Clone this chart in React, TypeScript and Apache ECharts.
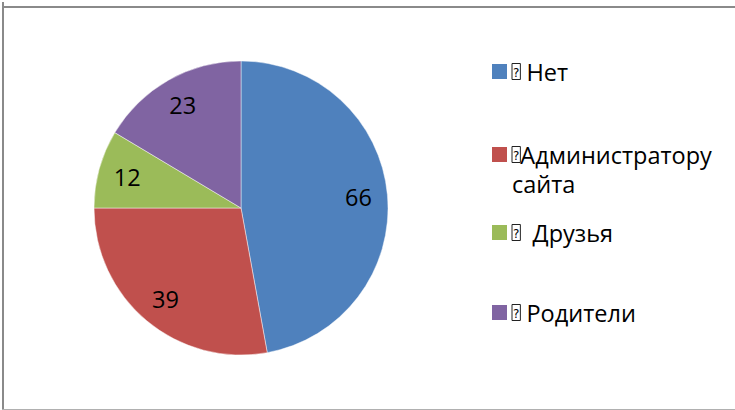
import React, { useEffect, useRef } from "react";
import * as echarts from "echarts";

const categories = ["Нет", "Администратору сайта", "Друзья", "Родители"];
const values = [66, 39, 12, 23];
const legendLabels = ["{q|?} Нет", "{q|?}Администратору\nсайта", "{q|?}  Друзья", "{q|?} Родители"];
const colors = ["#4F81BD", "#C0504D", "#9BBB59", "#8064A2"];

const FONT = "'Open Sans', 'Noto Sans', sans-serif";

export default function App() {
  const ref = useRef<HTMLDivElement>(null);
  useEffect(() => {
    if (!ref.current) return;
    const chart = echarts.init(ref.current, undefined, { renderer: "svg" });
    const data = categories.map((name, i) => ({ name, value: values[i] }));
    const legendTops = [57, 111, 218, 298];
    const legends = categories.map((name, i) => ({
      show: true,
      left: 492,
      top: legendTops[i],
      padding: 0,
      orient: "vertical",
      itemWidth: 15,
      itemHeight: 15,
      icon: "rect",
      selectedMode: false,
      itemStyle: { borderWidth: 0 },
      data: [name],
      formatter: () => legendLabels[i],
      textStyle: {
        fontFamily: FONT,
        fontSize: 23.5,
        color: "#000",
        lineHeight: 29,
        padding: i === 1 ? [29, 0, 0, 0] : 0,
        rich: {
          q: {
            fontFamily: "DejaVu Sans",
            fontSize: 12,
            color: "#000",
            borderColor: "#222",
            borderWidth: 1,
            padding: [3, 1, 1, 1],
            lineHeight: 29,
          },
        },
      },
    }));
    chart.setOption({
      animation: false,
      color: colors,
      backgroundColor: "#fff",
      legend: legends,
      graphic: [
        { type: "line", shape: { x1: 3, y1: 2, x2: 3, y2: 410 }, style: { stroke: "#8a8a8a", lineWidth: 2 } },
        { type: "line", shape: { x1: 2, y1: 7, x2: 740, y2: 7 }, style: { stroke: "#8a8a8a", lineWidth: 2 } },
        { type: "line", shape: { x1: 2, y1: 409.5, x2: 740, y2: 409.5 }, style: { stroke: "#b0b0b0", lineWidth: 1 } },
      ],
      series: [
        {
          type: "pie",
          center: [241, 208],
          radius: [0, 147],
          startAngle: 90,
          clockwise: true,
          silent: true,
          label: { show: false },
          labelLine: { show: false },
          itemStyle: { borderColor: "rgba(255,255,255,0.45)", borderWidth: 1 },
          data,
        },
        {
          type: "pie",
          center: [241, 208],
          radius: [83, 147],
          startAngle: 90,
          clockwise: true,
          silent: true,
          legendHoverLink: false,
          itemStyle: { color: "rgba(0,0,0,0)" },
          label: {
            show: true,
            position: "inside",
            formatter: "{c}",
            fontFamily: FONT,
            fontSize: 23.5,
            color: "#000",
          },
          labelLine: { show: false },
          data,
        },
      ],
    });
    return () => chart.dispose();
  }, []);
  return (
    <div
      ref={ref}
      style={{ position: "absolute", left: 0, top: 0, width: 735, height: 410 }}
    />
  );
}
